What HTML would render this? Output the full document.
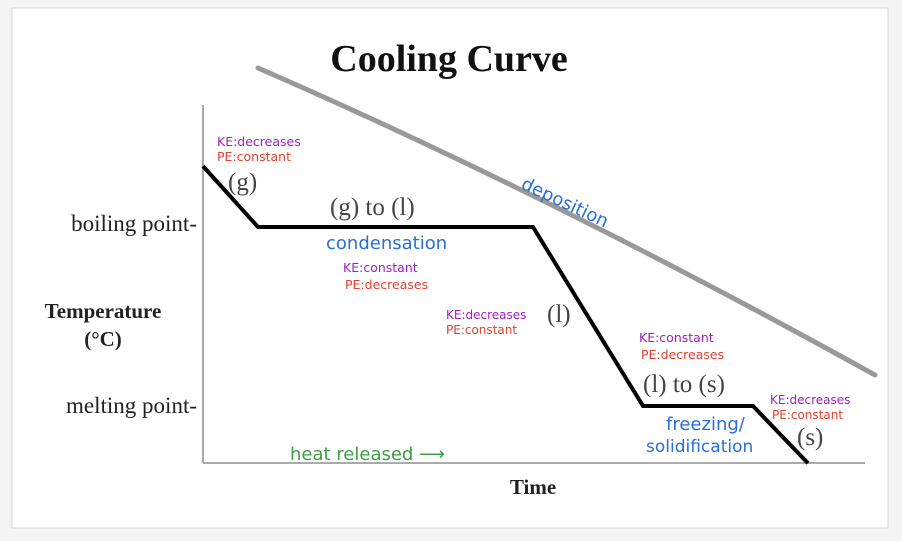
<!DOCTYPE html>
<html><head><meta charset="utf-8"><style>
body{margin:0;background:#fff;}
svg{display:block}
.hand{font-family:"DejaVu Sans",sans-serif;}
</style></head><body>
<svg width="902" height="541">
<rect x="0" y="0" width="902" height="541" fill="#f4f4f4"/>
<rect x="12" y="8" width="876" height="520" fill="#fff" stroke="#d8d8d8"/>
<text x="449" y="71" text-anchor="middle" font-family="Liberation Serif,serif" font-weight="bold" font-size="38" fill="#111">Cooling Curve</text>
<path d="M258,68 Q550,195 875,375" fill="none" stroke="#999" stroke-width="5" stroke-linecap="round"/>
<text x="520" y="188" transform="rotate(25 520 188)" class="hand" font-size="18" fill="#2a6fd6">deposition</text>
<line x1="203" y1="105" x2="203" y2="463" stroke="#aaa" stroke-width="2"/>
<line x1="203" y1="463" x2="865" y2="463" stroke="#aaa" stroke-width="2"/>
<g font-family="Liberation Serif,serif" font-size="23" fill="#222">
<text x="197" y="231" text-anchor="end">boiling point-</text>
<text x="197" y="413" text-anchor="end">melting point-</text>
<text x="103" y="318" text-anchor="middle" font-weight="bold" font-size="21">Temperature</text>
<text x="103" y="346" text-anchor="middle" font-weight="bold" font-size="21">(°C)</text>
<text x="533" y="494" text-anchor="middle" font-weight="bold" font-size="21">Time</text>
<text x="228" y="190" fill="#444" font-size="25">(g)</text>
<text x="330" y="215" fill="#444" font-size="25">(g) to (l)</text>
<text x="547" y="322" fill="#444" font-size="25">(l)</text>
<text x="643" y="392" fill="#444" font-size="25">(l) to (s)</text>
<text x="797" y="445" fill="#444" font-size="25">(s)</text>
</g>
<g class="hand" font-size="12.5">
<text x="217" y="146" fill="#a020c0">KE:decreases</text>
<text x="217" y="161" fill="#e04030">PE:constant</text>
<text x="343" y="272" fill="#a020c0">KE:constant</text>
<text x="345" y="289" fill="#e04030">PE:decreases</text>
<text x="446" y="319" fill="#a020c0" font-size="12">KE:decreases</text>
<text x="446" y="334" fill="#e04030" font-size="12">PE:constant</text>
<text x="639" y="342" fill="#a020c0">KE:constant</text>
<text x="641" y="359" fill="#e04030">PE:decreases</text>
<text x="770" y="404" fill="#a020c0" font-size="12">KE:decreases</text>
<text x="772" y="419" fill="#e04030" font-size="12">PE:constant</text>
</g>
<g class="hand" font-size="18" fill="#2a6fd6">
<text x="326" y="249">condensation</text>
<text x="666" y="430">freezing/</text>
<text x="646" y="452" font-size="17">solidification</text>
</g>
<text x="290" y="460" class="hand" font-size="18" fill="#3aa040">heat released ⟶</text>
<path id="curve" fill="none" stroke="#000" stroke-width="4" stroke-linejoin="miter"/>
</svg>
<script>
const times=[0,10,60,80,100,110];
const temps=[134,100,100,0,0,-32];
function xs(t){return 203+t*5.5;}
function ys(v){return 406-v*1.79;}
const d=times.map((t,i)=>(i?'L':'M')+xs(t)+','+ys(temps[i])).join(' ');
document.getElementById('curve').setAttribute('d',d);
</script>
</body></html>
